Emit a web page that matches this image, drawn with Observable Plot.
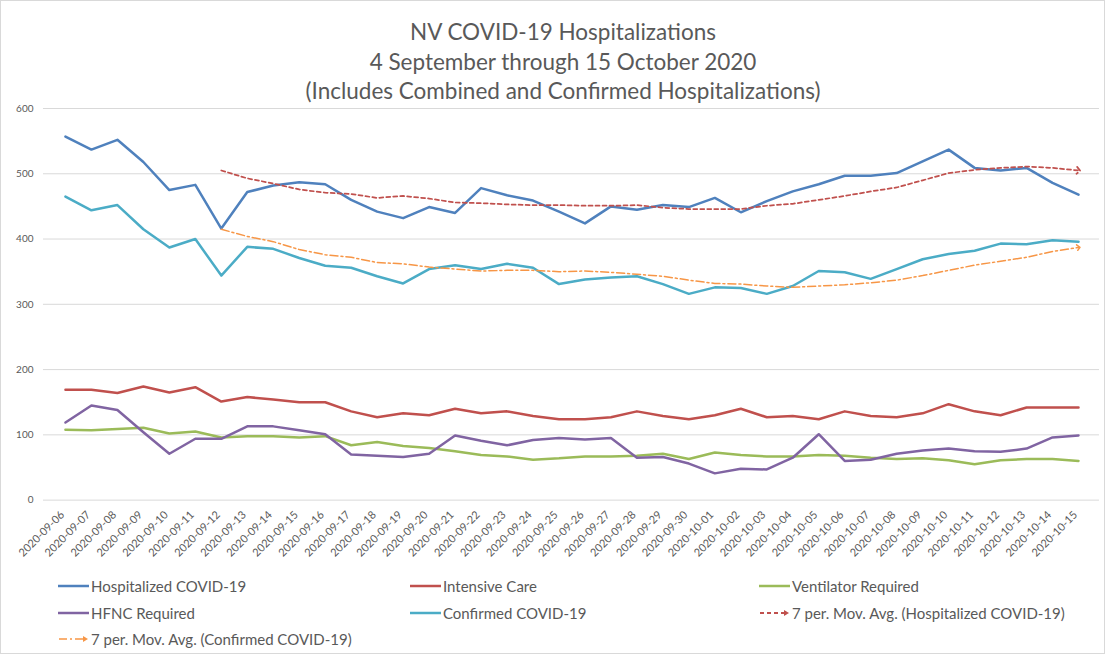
<!DOCTYPE html>
<html><head><meta charset="utf-8">
<script src="https://cdn.jsdelivr.net/npm/d3@7"></script>
<script src="https://cdn.jsdelivr.net/npm/@observablehq/plot@0.6"></script>
<style>
body{margin:0;background:#fff;font-family:Lato,"Open Sans",sans-serif;}
#wrap{position:relative;width:1103px;height:652px;overflow:hidden;border:1px solid #d9d9d9;}
#title{position:absolute;left:0;top:16px;width:1124px;text-align:center;color:#595959;font-size:22.5px;line-height:29.5px;}
#chart{position:absolute;left:-1px;top:99px;}
.lg{position:absolute;display:flex;align-items:center;color:#595959;font-size:15px;white-space:nowrap;}
.lg svg{margin-right:2px;}
</style></head>
<body>
<div id="wrap">
  <div id="title">NV COVID-19 Hospitalizations<br>4 September through 15 October 2020<br>(Includes Combined and Confirmed Hospitalizations)</div>
  <div id="chart"></div>
  <div id="legend"></div>
</div>
<script>
const dates = ["2020-09-06","2020-09-07","2020-09-08","2020-09-09","2020-09-10","2020-09-11","2020-09-12","2020-09-13","2020-09-14","2020-09-15","2020-09-16","2020-09-17","2020-09-18","2020-09-19","2020-09-20","2020-09-21","2020-09-22","2020-09-23","2020-09-24","2020-09-25","2020-09-26","2020-09-27","2020-09-28","2020-09-29","2020-09-30","2020-10-01","2020-10-02","2020-10-03","2020-10-04","2020-10-05","2020-10-06","2020-10-07","2020-10-08","2020-10-09","2020-10-10","2020-10-11","2020-10-12","2020-10-13","2020-10-14","2020-10-15"];
const hospitalized = [557,537,552,518,475,483,416,472,482,487,484,460,442,432,449,440,478,467,459,442,424,450,445,452,449,463,441,458,473,484,497,497,501,519,537,509,505,509,486,468];
const intensiveCare = [169,169,164,174,165,173,151,158,154,150,150,136,127,133,130,140,133,136,129,124,124,127,136,129,124,130,140,127,129,124,136,129,127,133,147,136,130,142,142,142];
const ventilator = [108,107,109,111,102,105,96,98,98,96,98,84,89,83,80,75,69,67,62,64,67,67,68,71,63,73,69,67,67,69,68,65,63,64,61,55,61,63,63,60];
const hfnc = [119,145,138,104,71,94,94,113,113,107,101,70,68,66,71,99,91,84,92,95,93,95,65,66,56,41,48,47,65,101,60,62,71,76,79,75,74,79,96,99];
const confirmed = [465,444,452,415,387,400,344,388,385,371,359,356,343,332,354,360,354,362,356,331,338,341,343,331,316,326,325,316,328,351,349,339,354,369,377,382,393,392,398,396];
// 7 per. moving averages, from 2020-09-12 on
const maHospitalized = [505,493,485,476,471,469,463,466,462,456,455,453,452,452,451,451,452,448,446,446,446,451,454,460,466,473,479,490,501,506,509,511,509,505];
const maConfirmed = [415,404,396,384,376,372,364,362,357,354,351,352,352,350,351,349,346,343,337,332,331,328,326,328,330,333,337,344,352,360,366,372,381,387];
const yTicks = [0,100,200,300,400,500,600];

const seriesNames = ["Hospitalized COVID-19","Intensive Care","Ventilator Required","HFNC Required","Confirmed COVID-19","7 per. Mov. Avg. (Hospitalized COVID-19)","7 per. Mov. Avg. (Confirmed COVID-19)"];
const colors = ["#4F81BD","#C0504D","#9BBB59","#8064A2","#4BACC6","#C0504D","#F79646"];

const toRows = vals => vals.map((v,i)=>({date: dates[i], value: v}));
const toRowsMA = vals => vals.map((v,i)=>({date: dates[i+6], value: v}));

const solid = [[hospitalized,0],[intensiveCare,1],[ventilator,2],[hfnc,3],[confirmed,4]];

const chart = Plot.plot({
  width: 1105, height: 470,
  marginTop: 8, marginBottom: 70, marginLeft: 43, marginRight: 5,
  style: {fontFamily: "Lato, 'Open Sans', sans-serif", fontSize: "10px", color: "#595959", background: "transparent", overflow: "visible"},
  x: {type: "point", domain: dates, padding: 0.5, label: null},
  y: {domain: [0,600], label: null},
  marks: [
    Plot.gridY(yTicks, {stroke: "#d9d9d9", strokeOpacity: 1}),
    Plot.axisY(yTicks, {tickSize: 0, tickPadding: 10, fill: "#595959", label: null}),
    Plot.axisX({tickSize: 0, tickRotate: -45, tickPadding: 13, dx: -3, fill: "#595959", label: null, fontSize: 11}),
    ...solid.map(([vals,k]) => Plot.line(toRows(vals), {x: "date", y: "value", stroke: colors[k], strokeWidth: 2.5})),
    Plot.line(toRowsMA(maHospitalized), {x: "date", y: "value", stroke: colors[5], strokeWidth: 1.75, strokeDasharray: "4 3", markerEnd: "arrow"}),
    Plot.line(toRowsMA(maConfirmed), {x: "date", y: "value", stroke: colors[6], strokeWidth: 1.5, strokeDasharray: "8 3 2 3", markerEnd: "arrow"})
  ]
});
document.getElementById("chart").appendChild(chart);

// legend
const pos = [[57,585],[409,585],[758,585],[57,612],[409,612],[758,612],[57,638]];
const legend = document.getElementById("legend");
seriesNames.forEach((name,k)=>{
  const d = document.createElement("div");
  d.className = "lg";
  d.style.left = pos[k][0] + "px";
  d.style.top = (pos[k][1]-10) + "px";
  let sw;
  if (k === 5) sw = `<svg width="31" height="10"><line x1="1" y1="5" x2="25" y2="5" stroke="${colors[k]}" stroke-width="2" stroke-dasharray="4 3"/><path d="M25,2 L30,5 L25,8 Z" fill="${colors[k]}"/></svg>`;
  else if (k === 6) sw = `<svg width="31" height="10"><line x1="1" y1="5" x2="25" y2="5" stroke="${colors[k]}" stroke-width="1.5" stroke-dasharray="8 3 2 3"/><path d="M25,2 L30,5 L25,8 Z" fill="${colors[k]}"/></svg>`;
  else sw = `<svg width="31" height="10"><line x1="0" y1="5" x2="31" y2="5" stroke="${colors[k]}" stroke-width="2.5"/></svg>`;
  d.innerHTML = sw + `<span>${name}</span>`;
  d.style.height = "20px";
  legend.appendChild(d);
});
</script>
</body></html>
